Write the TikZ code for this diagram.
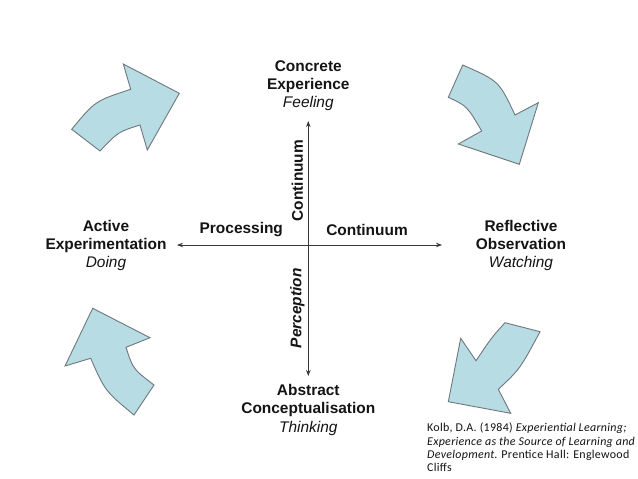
\documentclass[tikz,border=0pt]{standalone}
\usepackage{fontspec}
\setmainfont{Liberation Sans}
\newfontfamily\citefont[LetterSpace=2.5]{Carlito}
\usetikzlibrary{arrows.meta}
\definecolor{arrowfill}{RGB}{183,220,227}
\definecolor{arrowedge}{RGB}{110,120,124}
\definecolor{axiscol}{RGB}{55,55,55}
\definecolor{textcol}{RGB}{20,20,20}
\tikzset{
  blockarrow/.style={fill=arrowfill, draw=arrowedge, line width=0.9bp, line join=miter},
  axisline/.style={draw=axiscol, line width=0.9bp, {Stealth[length=6bp,width=4.5bp]}-{Stealth[length=6bp,width=4.5bp]}},
  pole/.style={align=center, inner sep=0pt, text=textcol, font=\fontsize{15.5}{18.3}\selectfont},
  axlabel/.style={inner sep=0pt, text=textcol, font=\fontsize{15.5}{18.3}\selectfont\bfseries},
  citation/.style={inner sep=0pt, align=left, anchor=north west, text=textcol, font=\citefont\fontsize{12}{13.4}\selectfont}
}
\begin{document}
\begin{tikzpicture}[x=1bp,y=-1bp]
\useasboundingbox[fill=white] (0,0) rectangle (638,479);

% curved block arrows
\path[blockarrow] (71.7,129.3) .. controls (95,101) .. (130.7,89.3) -- (123.3,64) -- (179.3,93.3) -- (147.3,150) -- (140,125) .. controls (118,132) .. (100,151) -- cycle;
\path[blockarrow] (462.7,65) -- (448.3,97.3) .. controls (467,106) .. (481.7,131) -- (458.3,144) -- (519.3,164.3) -- (538.3,102.7) -- (515,115) .. controls (499,81) .. cycle;
\path[blockarrow] (154,385) -- (134,415) .. controls (105,391) .. (90.7,358.3) -- (65,366) -- (92.7,308.3) -- (150,337.7) -- (126,347.3) .. controls (133,369) .. cycle;
\path[blockarrow] (505,322.7) -- (540,331.7) .. controls (520,369) .. (498.3,389.3) -- (510.7,413.3) -- (448.3,401.7) -- (460.7,338.3) -- (476,360.7) .. controls (492,337) .. cycle;

% axes
\coordinate (L) at (177,245);
\coordinate (R) at (442,245);
\coordinate (T) at (308.3,121);
\coordinate (B) at (308.3,376);
\draw[axisline] (L) -- (R);
\draw[axisline] (B) -- (T);

% axis labels
\node[axlabel] (proc) at (241.3,230) {Processing};
\node[axlabel] (contH) at (367,230) {Continuum};
\node[axlabel, rotate=90] (contV) at (297.3,180.7) {Continuum};
\node[axlabel, rotate=90] (perc) at (297.3,308.3) {\itshape Perception};

% poles
\node[pole] (ce) at (308.3,85.5) {\bfseries Concrete\\\bfseries Experience\\\itshape Feeling};
\node[pole] (ac) at (308.3,410) {\bfseries Abstract\\\bfseries Conceptualisation\\\itshape Thinking};
\node[pole] (ae) at (106,245.5) {\bfseries Active\\\bfseries Experimentation\\\itshape Doing};
\node[pole] (ro) at (521,245.5) {\bfseries Reflective\\\bfseries Observation\\\itshape Watching};

% citation
\node[citation] (cite) at (427,423) {Kolb, D.A. (1984) \textit{Experiential Learning;}\\\textit{Experience as the Source of Learning and}\\\textit{Development}. Prentice Hall: Englewood\\Cliffs};
\end{tikzpicture}
\end{document}
